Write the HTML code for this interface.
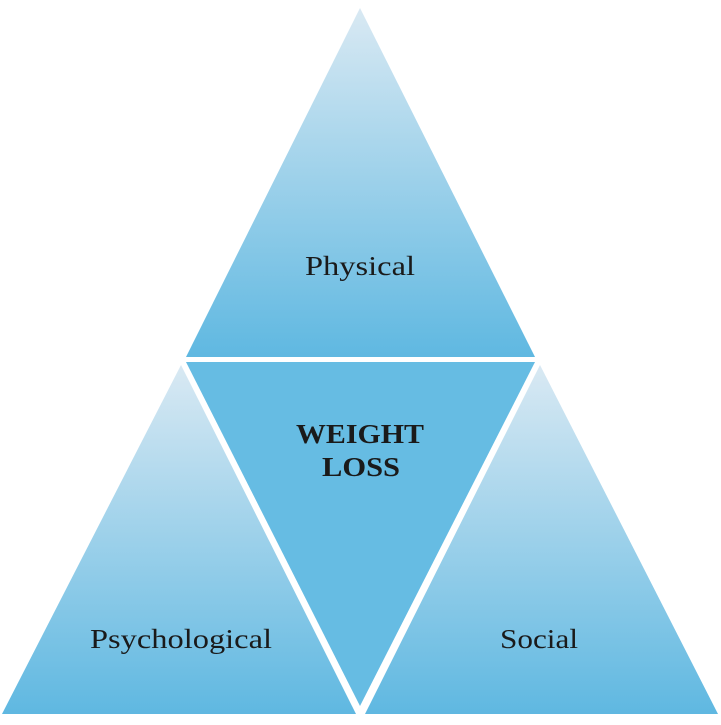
<!DOCTYPE html>
<html><head><style>body{margin:0;background:#fff}</style></head><body>
<svg width="721" height="720" xmlns="http://www.w3.org/2000/svg">
<defs>
<linearGradient id="g" x1="0" y1="0" x2="0" y2="1">
<stop offset="0" stop-color="#d9e9f3"/><stop offset="1" stop-color="#5fb8e1"/>
</linearGradient>
</defs>
<polygon points="360,8 535,357 186,357" fill="url(#g)"/>
<polygon points="186,362 535,362 360,706" fill="#66bce3"/>
<polygon points="181,365 356,714 2,714" fill="url(#g)"/>
<polygon points="540,365 718,714 365,714" fill="url(#g)"/>
<g font-family="Liberation Serif, serif" fill="#1a1a1a">
<text x="305" y="275" font-size="27" textLength="110" lengthAdjust="spacingAndGlyphs">Physical</text>
<text x="90" y="648" font-size="27" textLength="182" lengthAdjust="spacingAndGlyphs">Psychological</text>
<text x="500" y="648" font-size="27" textLength="78" lengthAdjust="spacingAndGlyphs">Social</text>
<text x="296" y="443" font-size="27" font-weight="bold" textLength="128" lengthAdjust="spacingAndGlyphs">WEIGHT</text>
<text x="322" y="476" font-size="27" font-weight="bold" textLength="78" lengthAdjust="spacingAndGlyphs">LOSS</text>
</g>
</svg>
</body></html>
